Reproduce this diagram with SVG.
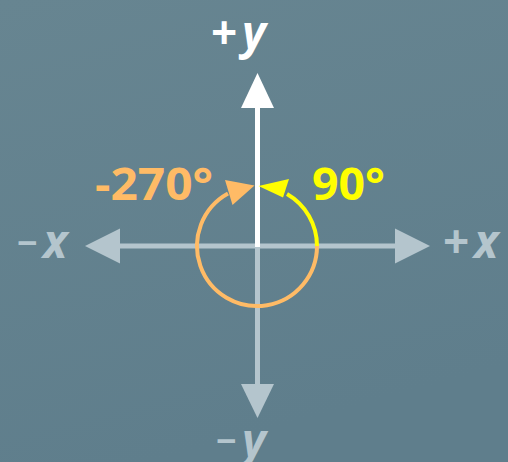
<svg xmlns="http://www.w3.org/2000/svg" width="508" height="462" viewBox="0 0 508 462">
  <defs>
    <linearGradient id="bg" x1="0" y1="0" x2="0.3" y2="1">
      <stop offset="0" stop-color="#678591"/>
      <stop offset="1" stop-color="#5f7e8c"/>
    </linearGradient>
    <style>
      .lbl { font-family: "Open Sans", "Liberation Sans", sans-serif; font-weight: bold; }
      .var { font-style: italic; }
      .axis { stroke: #b4c5cd; stroke-width: 5; fill: none; }
      .axisW { stroke: #ffffff; stroke-width: 5; fill: none; }
      .headG { fill: #b4c5cd; }
      .headW { fill: #ffffff; }
      .arcO { stroke: #ffbb66; stroke-width: 4; fill: none; }
      .arcY { stroke: #ffff00; stroke-width: 4; fill: none; }
    </style>
  </defs>
  <rect width="508" height="462" fill="url(#bg)"/>

  <g id="connectors">
    <line class="axis" x1="118" y1="246" x2="397" y2="246"/>
    <line class="axis" x1="257.5" y1="246" x2="257.5" y2="386"/>
    <line class="axisW" x1="257.5" y1="106" x2="257.5" y2="247"/>
    <polygon class="headW" points="257.5,73 241,108 274,108"/>
    <polygon class="headG" points="85,246 120,228.5 120,263.5"/>
    <polygon class="headG" points="430,246 395,228.5 395,263.5"/>
    <polygon class="headG" points="257.5,418 241,384 274,384"/>
    <path class="arcO" d="M 317 246 A 60 60 0 1 1 228 193.5"/>
    <path class="arcY" d="M 317 246 A 60 60 0 0 0 287 194"/>
    <polygon fill="#ffbb66" points="254.5,185.5 225,180 232.5,205"/>
    <polygon fill="#ffff00" points="258.5,186 289,179 283,197.5"/>
  </g>

  <g id="label-plus-y" class="lbl" fill="#ffffff">
    <text x="211" y="49" font-size="46">+</text>
    <text class="var" x="242" y="49" font-size="46">y</text>
  </g>
  <g id="label-minus-y" class="lbl" fill="#b4c5cd">
    <text x="216" y="454" font-size="36">−</text>
    <text class="var" x="242" y="457" font-size="46">y</text>
  </g>
  <g id="label-minus-x" class="lbl" fill="#b4c5cd">
    <text x="17" y="256" font-size="36">−</text>
    <text class="var" x="43" y="258" font-size="46">x</text>
  </g>
  <g id="label-plus-x" class="lbl" fill="#b4c5cd">
    <text x="443" y="258" font-size="46">+</text>
    <text class="var" x="474" y="258" font-size="46">x</text>
  </g>
  <g id="label-neg270" class="lbl" fill="#ffbb66">
    <text x="95" y="200" font-size="44" textLength="118" lengthAdjust="spacingAndGlyphs">-270°</text>
  </g>
  <g id="label-90" class="lbl" fill="#ffff00">
    <text x="312" y="200" font-size="44" textLength="73" lengthAdjust="spacingAndGlyphs">90°</text>
  </g>
</svg>
